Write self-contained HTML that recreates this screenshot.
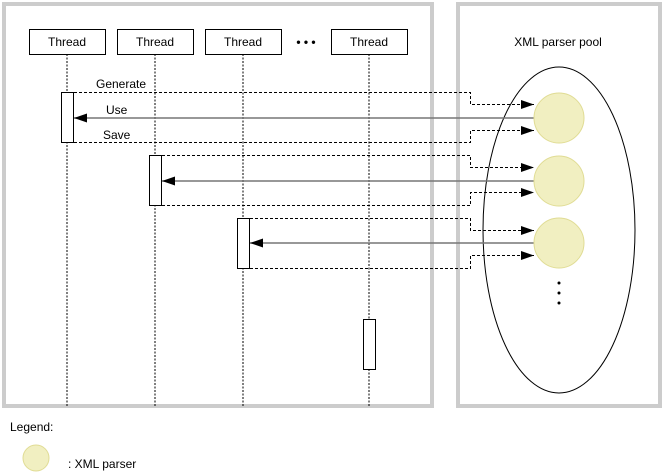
<!DOCTYPE html>
<html><head><style>body{margin:0;background:#fff}svg{display:block}text{font-family:"Liberation Sans",sans-serif;font-size:12px;fill:#000}</style></head><body>
<svg width="664" height="475" viewBox="0 0 664 475">
<defs><marker id="a" markerWidth="13" markerHeight="9" refX="13" refY="4.5" orient="auto" markerUnits="userSpaceOnUse"><path d="M0,0L13,4.5L0,9z" fill="#000"/></marker></defs>
<rect x="4" y="4" width="428" height="402" fill="none" stroke="#ccc" stroke-width="4"/>
<rect x="458" y="4" width="202" height="402" fill="none" stroke="#ccc" stroke-width="4"/>
<text x="558" y="46" text-anchor="middle">XML parser pool</text>
<ellipse cx="559" cy="230" rx="76" ry="163" fill="none" stroke="#000" stroke-width="1"/>
<g stroke="#000" stroke-dasharray="2,1.5" fill="none">
<line x1="67" y1="54" x2="67" y2="406"/><line x1="155" y1="54" x2="155" y2="406"/><line x1="243" y1="54" x2="243" y2="406"/><line x1="369" y1="54" x2="369" y2="406"/>
</g>
<g fill="#fff" stroke="#000">
<rect x="29.5" y="29.5" width="76" height="25"/><rect x="117.5" y="29.5" width="76" height="25"/><rect x="205.5" y="29.5" width="76" height="25"/><rect x="331.5" y="29.5" width="76" height="25"/>
<rect x="61.5" y="92.5" width="12" height="50"/><rect x="149.5" y="155.5" width="12" height="50"/><rect x="237.5" y="218.5" width="12" height="50"/><rect x="363.5" y="319.5" width="12" height="50"/>
</g>
<g text-anchor="middle"><text x="67" y="46">Thread</text><text x="155" y="46">Thread</text><text x="243" y="46">Thread</text><text x="369" y="46">Thread</text></g>
<text x="306" y="46" text-anchor="middle" font-weight="bold">• • •</text>
<g fill="none" stroke="#000" stroke-dasharray="3,2">
<path d="M74,92.5H470.5V104.5H534" marker-end="url(#a)"/><path d="M74,142.5H470.5V130.5H534" marker-end="url(#a)"/>
<path d="M162,155.5H470.5V167.5H534" marker-end="url(#a)"/><path d="M162,205.5H470.5V192.5H534" marker-end="url(#a)"/>
<path d="M250,218.5H470.5V230.5H534" marker-end="url(#a)"/><path d="M250,268.5H470.5V255.5H534" marker-end="url(#a)"/>
</g>
<g stroke="#777" stroke-width="1.5" fill="none">
<line x1="534" y1="118" x2="74" y2="118" marker-end="url(#a)"/><line x1="534" y1="181" x2="162" y2="181" marker-end="url(#a)"/><line x1="534" y1="243" x2="250" y2="243" marker-end="url(#a)"/>
</g>
<g fill="#f1efc1" stroke="#e0dc94">
<circle cx="559" cy="118" r="25"/><circle cx="559" cy="181" r="25"/><circle cx="559" cy="243" r="25"/><circle cx="36" cy="458" r="13"/>
</g>
<g fill="#000"><circle cx="559" cy="283" r="1.5"/><circle cx="559" cy="293" r="1.5"/><circle cx="559" cy="303" r="1.5"/></g>
<text x="96" y="88">Generate</text><text x="106" y="114">Use</text><text x="103" y="139">Save</text>
<text x="10" y="431">Legend:</text><text x="68" y="468">: XML parser</text>
</svg></body></html>
